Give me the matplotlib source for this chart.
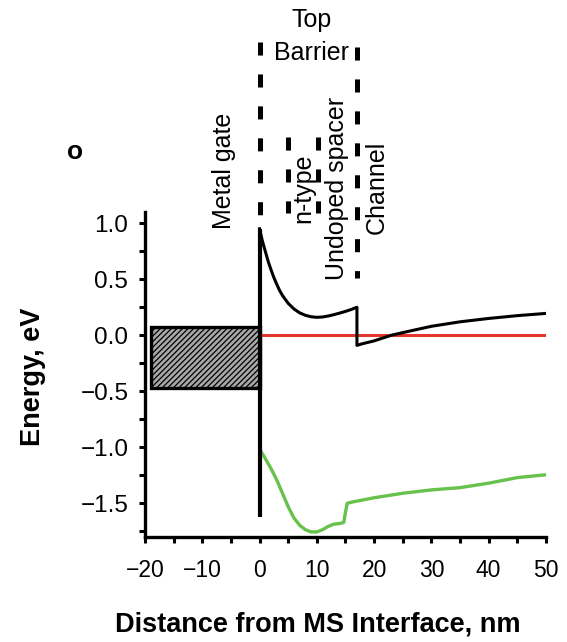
import matplotlib
matplotlib.use("Agg")
import matplotlib.pyplot as plt
from matplotlib.ticker import MultipleLocator

plt.rcParams["font.family"] = ["Liberation Sans", "DejaVu Sans"]
plt.rcParams["lines.scale_dashes"] = False
plt.rcParams["hatch.linewidth"] = 0.9
plt.rcParams["hatch.color"] = "#505050"

# conduction band (black), nm / eV
cb_x = [0, 0.5, 1, 1.5, 2, 2.5, 3, 3.5, 4, 5, 6, 7, 8, 9, 10, 11, 12, 13, 14,
        15, 16, 17,
        17, 18, 20, 23, 26, 30, 35, 40, 45, 50]
cb_y = [0.95, 0.84, 0.75, 0.66, 0.585, 0.515, 0.455, 0.40, 0.355, 0.285, 0.235,
        0.20, 0.178, 0.165, 0.16, 0.163, 0.172, 0.184, 0.198, 0.213, 0.23, 0.25,
        -0.09, -0.075, -0.05, 0.0, 0.035, 0.08, 0.12, 0.15, 0.175, 0.195]

# valence band (green)
vb_x = [0.3, 1, 2, 3, 4, 5, 6, 7, 8, 9, 10, 11, 12, 13, 14, 14.7, 15.0, 15.3,
        16, 18, 20, 25, 30, 35, 40, 45, 50]
vb_y = [-1.04, -1.10, -1.19, -1.29, -1.41, -1.53, -1.63, -1.695, -1.735, -1.755,
        -1.755, -1.735, -1.705, -1.685, -1.68, -1.67, -1.58, -1.50,
        -1.49, -1.47, -1.45, -1.41, -1.38, -1.36, -1.32, -1.27, -1.245]

# Fermi level (red)
ef_x = [0, 50]
ef_y = [0, 0]

# metal gate block
gate_x = [-19.0, 0.0]
gate_y = [-0.47, 0.07]

# interface wall at x=0
wall_x = [0, 0]
wall_y = [-1.62, 0.95]

# region boundaries (dashed): x, top, bottom
bound_x = [0, 17, 4.9, 10.2]
bound_top = [2.62, 2.57, 1.77, 1.77]
bound_bot = [1.07, 0.51, 1.09, 1.09]

labels = ["Metal gate", "n-type", "Undoped spacer", "Channel"]
label_x = [-6.25, 7.6, 13.5, 20.5]
label_y = [1.47, 1.31, 1.31, 1.32]

fig = plt.figure(figsize=(5.67, 6.42), dpi=100)
ax = fig.add_axes([0.2557, 0.1636, 0.7072, 0.5062])

ax.bar(gate_x[0], gate_y[1] - gate_y[0], width=gate_x[1] - gate_x[0],
       bottom=gate_y[0], align="edge", facecolor="#a8a8a8", edgecolor="black",
       hatch="//////", linewidth=2.4, zorder=2)

ax.plot(ef_x, ef_y, color="#e3382b", lw=2.2, zorder=3)
ax.plot(vb_x, vb_y, color="#66c24a", lw=2.4, zorder=3)
ax.plot(cb_x, cb_y, color="black", lw=2.2, zorder=4)
ax.plot(wall_x, wall_y, color="black", lw=3.0, solid_capstyle="butt", zorder=4)

for x, yt, yb in zip(bound_x, bound_top, bound_bot):
    ax.plot([x, x], [yt, yb], color="black", lw=3.6, dashes=(9.4, 13.6),
            dash_capstyle="butt", clip_on=False, zorder=4)

for s, x, y in zip(labels, label_x, label_y):
    ax.text(x, y, s, rotation=90, ha="center", va="center", fontsize=18,
            clip_on=False)

ax.text(9.1, 2.81, "Top", ha="center", va="center", fontsize=18)
ax.text(9.0, 2.52, "Barrier", ha="center", va="center", fontsize=18)

ax.set_xlim(-20, 50)
ax.set_ylim(-1.8, 1.1)
ax.xaxis.set_major_locator(MultipleLocator(10))
ax.xaxis.set_minor_locator(MultipleLocator(5))
ax.yaxis.set_minor_locator(MultipleLocator(0.25))
ax.set_yticks([-1.5, -1.0, -0.5, 0.0, 0.5, 1.0])
ax.set_yticklabels(["\u22121.5", "\u22121.0", "\u22120.5", "0.0", "0.5", "1.0"])

for side in ["top", "right"]:
    ax.spines[side].set_visible(False)
for side in ["left", "bottom"]:
    ax.spines[side].set_linewidth(2.4)

ax.tick_params(which="both", direction="out", length=4, width=2.2)
ax.tick_params(axis="x", which="major", labelsize=16.5, pad=12)
ax.tick_params(axis="y", which="major", labelsize=17.5, pad=8)

fig.text(0.058, 0.413, "Energy, eV", rotation=90, ha="center", va="center",
         fontsize=19.5, fontweight="bold")
fig.text(0.561, 0.0265, "Distance from MS Interface, nm", ha="center",
         va="center", fontsize=19.5, fontweight="bold")
fig.text(0.132, 0.763, "o", ha="center", va="center", fontsize=19,
         fontweight="bold")

fig.savefig("out.png", dpi=100)
